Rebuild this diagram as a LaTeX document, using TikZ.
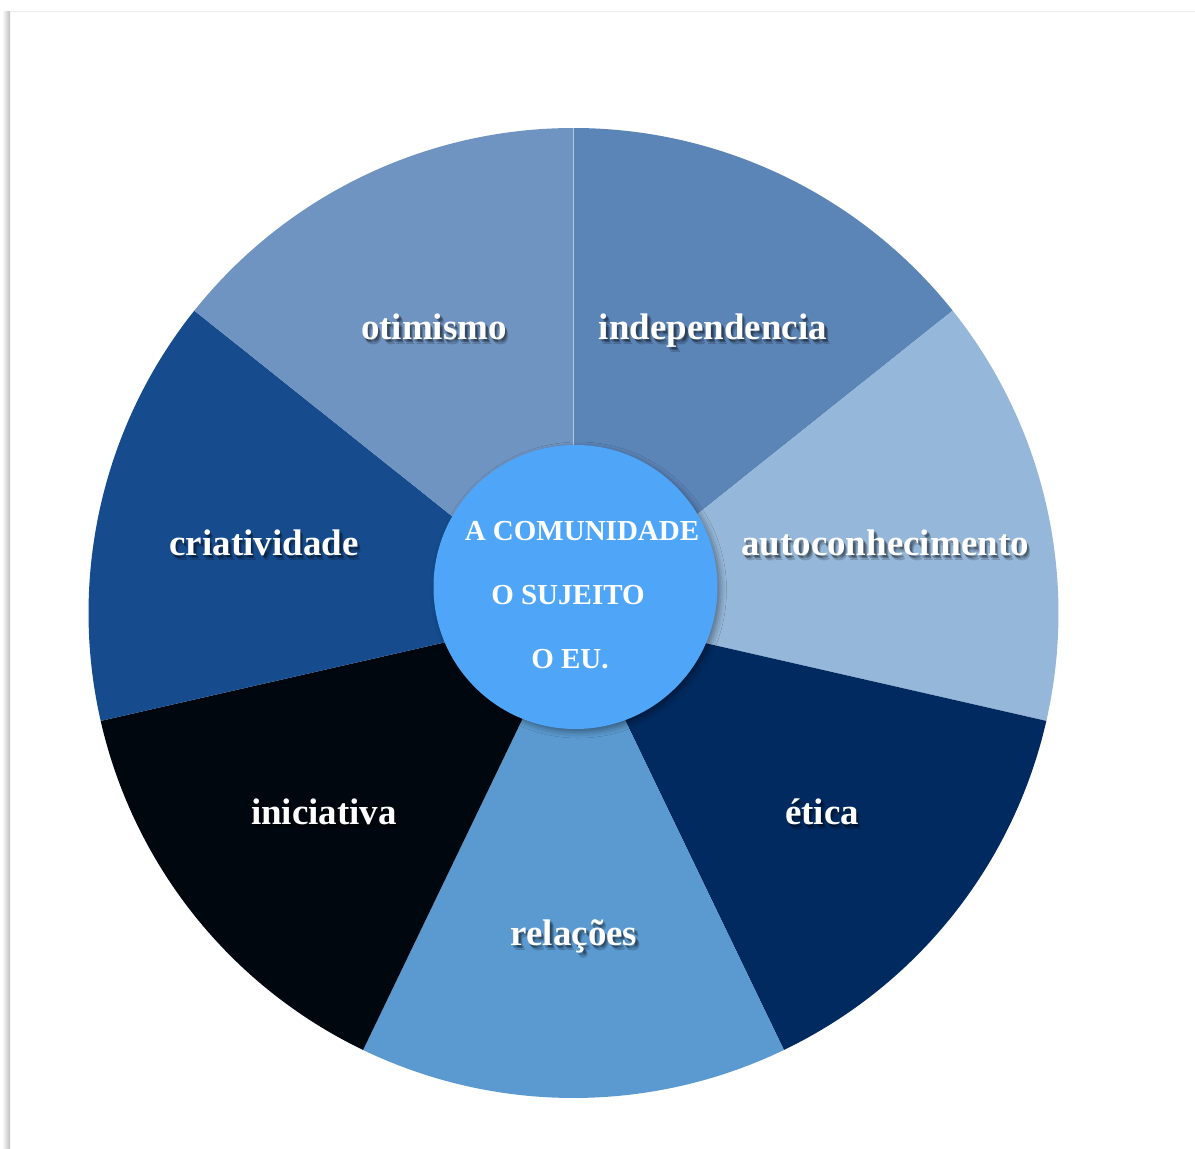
\documentclass[tikz,border=0pt]{standalone}
\usepackage{fontspec}
\setmainfont{Liberation Serif}
\usetikzlibrary{shadows.blur}
\definecolor{cIndep}{HTML}{5B84B7}
\definecolor{cAuto}{HTML}{95B8DA}
\definecolor{cEtica}{HTML}{002A60}
\definecolor{cRel}{HTML}{5B9AD0}
\definecolor{cInic}{HTML}{01070F}
\definecolor{cCriat}{HTML}{164C8E}
\definecolor{cOtim}{HTML}{7094C1}
\definecolor{cCore}{HTML}{4FA6F8}
\tikzset{
  lbl/.style={anchor=base, inner sep=0pt, text=white, font=\bfseries\fontsize{37}{40}\selectfont},
  lblshadow/.style={lbl, text=black, opacity=#1},
  coretxt/.style={anchor=base, inner sep=0pt, text=white, font=\bfseries\fontsize{29}{32}\selectfont},
}
\begin{document}
\begin{tikzpicture}[x=1pt,y=1pt]
\useasboundingbox (0,0) rectangle (1195,-1149);
\fill[white] (0,0) rectangle (1195,-1149);
% sheet edge
\shade[left color=white, right color=black!25] (2,-11) rectangle (10,-1149);
\draw[black!7, line width=1pt] (10,-11) -- (1195,-11);

\coordinate (O) at (573.5,-613);
\def\R{485}
% seven equal sectors, clockwise from the top
\foreach \col [count=\i from 0] in {cIndep,cAuto,cEtica,cRel,cInic,cCriat,cOtim}{
  \pgfmathsetmacro\aa{90-\i*360/7}
  \pgfmathsetmacro\ab{90-(\i+1)*360/7}
  \fill[\col, shift={(O)}] (0,0) -- (\aa:\R) arc[start angle=\aa, end angle=\ab, radius=\R] -- cycle;
}
\draw[white, opacity=.35, line width=.6pt] (O) -- ++(0,\R);

% sector labels with soft drop shadow
\foreach \nm/\x/\y/\t in {indep/713/339/independencia, auto/885/555/autoconhecimento,
  etica/822/824/ética, rel/574/945/relações, inic/324/824/iniciativa,
  criat/264/555/criatividade, otim/434/339/otimismo}{
  \node[lblshadow=.18] (\nm-s1) at (\x+3.5,-\y-5) {\t};
  \node[lblshadow=.25] (\nm-s2) at (\x+2.5,-\y-3.5) {\t};
  \node[lblshadow=.2] (\nm-s3) at (\x+1.5,-\y-2.5) {\t};
  \node[lbl] (\nm) at (\x,-\y) {\t};
}

% central disc
\node[circle, fill=cCore, minimum size=284pt, inner sep=0pt,
  blur shadow={shadow xshift=3pt, shadow yshift=-3pt, shadow blur radius=6pt, shadow opacity=40}]
  (core) at (575.5,-587) {};
\node[coretxt] (l1) at (582,-540) {A COMUNIDADE};
\node[coretxt] (l2) at (568,-604) {O SUJEITO};
\node[coretxt] (l3) at (570,-668) {O EU.};
\end{tikzpicture}
\end{document}
